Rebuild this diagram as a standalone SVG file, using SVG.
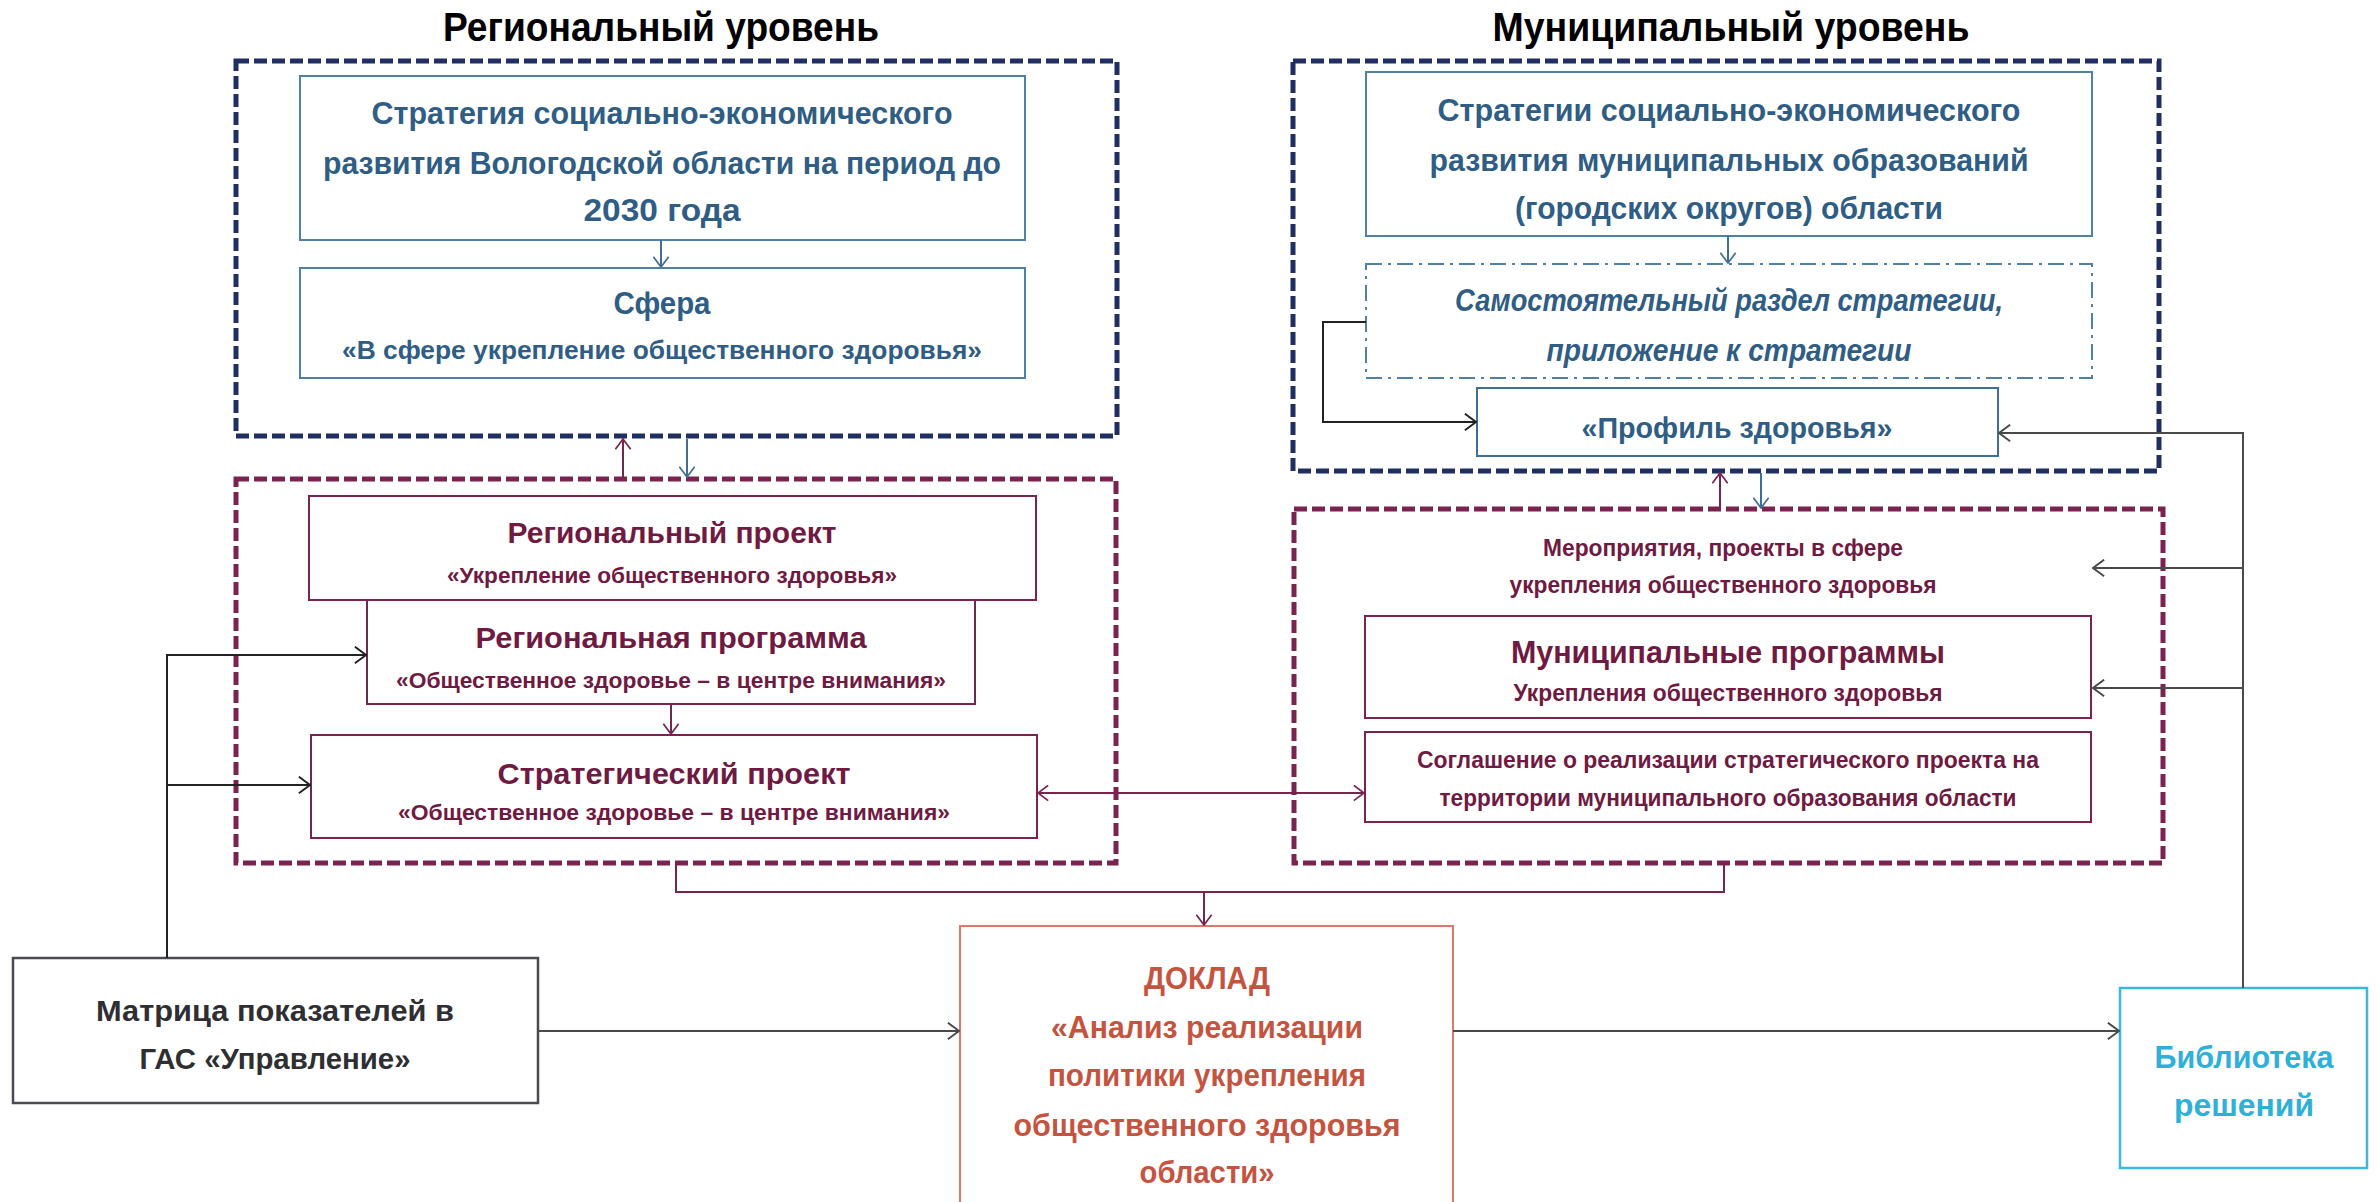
<svg xmlns="http://www.w3.org/2000/svg" width="2377" height="1202" viewBox="0 0 2377 1202">
<style>
text{font-family:"Liberation Sans Narrow","Liberation Sans","DejaVu Sans Condensed",Arial,sans-serif;font-weight:bold;text-anchor:middle}
.title{font-size:40px;fill:#000}
.bt{fill:#2f5d84}
.mt{fill:#6e1a42}
.box-b{fill:#fff;stroke:#4f81a8;stroke-width:2}
.box-m{fill:#fff;stroke:#7a2350;stroke-width:2}
.dash-navy{fill:none;stroke:#1f2f62;stroke-width:5;stroke-dasharray:13 5}
.dash-maroon{fill:none;stroke:#7a2350;stroke-width:5;stroke-dasharray:13 5}
.c{fill:none;stroke-width:2}
</style>
<defs>
<marker id="ab" viewBox="0 0 14 20" refX="13" refY="10" markerWidth="12" markerHeight="17" markerUnits="userSpaceOnUse" orient="auto-start-reverse"><path d="M1,1 L13,10 L1,19" fill="none" stroke="#3f6f95" stroke-width="2"/></marker>
<marker id="am" viewBox="0 0 14 20" refX="13" refY="10" markerWidth="12" markerHeight="17" markerUnits="userSpaceOnUse" orient="auto-start-reverse"><path d="M1,1 L13,10 L1,19" fill="none" stroke="#7a2350" stroke-width="2"/></marker>
<marker id="ak" viewBox="0 0 14 20" refX="13" refY="10" markerWidth="13" markerHeight="19" markerUnits="userSpaceOnUse" orient="auto-start-reverse"><path d="M1,1 L13,10 L1,19" fill="none" stroke="#222" stroke-width="2"/></marker>
<marker id="ag" viewBox="0 0 14 20" refX="13" refY="10" markerWidth="13" markerHeight="19" markerUnits="userSpaceOnUse" orient="auto-start-reverse"><path d="M1,1 L13,10 L1,19" fill="none" stroke="#4a4a4a" stroke-width="2"/></marker>
</defs>
<rect width="2377" height="1202" fill="#fff"/>

<text class="title" x="661" y="41" textLength="436" lengthAdjust="spacingAndGlyphs">Региональный уровень</text>
<text class="title" x="1731" y="41" textLength="477" lengthAdjust="spacingAndGlyphs">Муниципальный уровень</text>

<g id="regional-level">
<rect class="dash-navy" x="236" y="61" width="881" height="375"/>
</g>
<g id="regional-strategy">
<rect class="box-b" x="300" y="76" width="725" height="164"/>
<text class="bt" font-size="31" x="662" y="124" textLength="581" lengthAdjust="spacingAndGlyphs">Стратегия социально-экономического</text>
<text class="bt" font-size="31" x="662" y="174" textLength="678" lengthAdjust="spacingAndGlyphs">развития Вологодской области на период до</text>
<text class="bt" font-size="31" x="662" y="221" textLength="157" lengthAdjust="spacingAndGlyphs">2030 года</text>
</g>
<g id="sphere">
<rect class="box-b" x="300" y="268" width="725" height="110"/>
<text class="bt" font-size="31" x="662" y="314" textLength="97" lengthAdjust="spacingAndGlyphs">Сфера</text>
<text class="bt" font-size="25" x="662" y="359" textLength="640" lengthAdjust="spacingAndGlyphs">«В сфере укрепление общественного здоровья»</text>
</g>

<g id="municipal-level">
<rect class="dash-navy" x="1293" y="61" width="866" height="410"/>
</g>
<g id="municipal-strategy">
<rect class="box-b" x="1366" y="72" width="726" height="164"/>
<text class="bt" font-size="31" x="1729" y="121" textLength="583" lengthAdjust="spacingAndGlyphs">Стратегии социально-экономического</text>
<text class="bt" font-size="31" x="1729" y="171" textLength="599" lengthAdjust="spacingAndGlyphs">развития муниципальных образований</text>
<text class="bt" font-size="31" x="1729" y="219" textLength="428" lengthAdjust="spacingAndGlyphs">(городских округов) области</text>
</g>
<g id="strategy-section">
<rect x="1366" y="264" width="726" height="114" fill="#fff" stroke="#4f81a8" stroke-width="2" stroke-dasharray="16 6 3 6"/>
<text class="bt" font-size="31" font-style="italic" x="1729" y="311" textLength="548" lengthAdjust="spacingAndGlyphs">Самостоятельный раздел стратегии,</text>
<text class="bt" font-size="31" font-style="italic" x="1729" y="361" textLength="365" lengthAdjust="spacingAndGlyphs">приложение к стратегии</text>
</g>
<g id="health-profile">
<rect x="1477" y="388" width="521" height="68" fill="#fff" stroke="#3f6f95" stroke-width="2"/>
<text class="bt" font-size="29" x="1737" y="438" textLength="311" lengthAdjust="spacingAndGlyphs">«Профиль здоровья»</text>
</g>

<g id="regional-projects">
<rect class="dash-maroon" x="236" y="479" width="880" height="384"/>
</g>
<g id="regional-project">
<rect class="box-m" x="309" y="496" width="727" height="104"/>
<text class="mt" font-size="30" x="672" y="543" textLength="329" lengthAdjust="spacingAndGlyphs">Региональный проект</text>
<text class="mt" font-size="22" x="672" y="583" textLength="450" lengthAdjust="spacingAndGlyphs">«Укрепление общественного здоровья»</text>
</g>
<g id="regional-program">
<rect class="box-m" x="367" y="600" width="608" height="104"/>
<text class="mt" font-size="30" x="671" y="648" textLength="391" lengthAdjust="spacingAndGlyphs">Региональная программа</text>
<text class="mt" font-size="22" x="671" y="688" textLength="550" lengthAdjust="spacingAndGlyphs">«Общественное здоровье – в центре внимания»</text>
</g>
<g id="strategic-project">
<rect class="box-m" x="311" y="735" width="726" height="103"/>
<text class="mt" font-size="30" x="674" y="784" textLength="353" lengthAdjust="spacingAndGlyphs">Стратегический проект</text>
<text class="mt" font-size="22" x="674" y="820" textLength="552" lengthAdjust="spacingAndGlyphs">«Общественное здоровье – в центре внимания»</text>
</g>

<g id="municipal-projects">
<rect class="dash-maroon" x="1294" y="509" width="869" height="354"/>
<text class="mt" font-size="23" x="1723" y="556" textLength="360" lengthAdjust="spacingAndGlyphs">Мероприятия, проекты в сфере</text>
<text class="mt" font-size="23" x="1723" y="593" textLength="427" lengthAdjust="spacingAndGlyphs">укрепления общественного здоровья</text>
</g>
<g id="municipal-programs">
<rect class="box-m" x="1365" y="616" width="726" height="102"/>
<text class="mt" font-size="31" x="1728" y="663" textLength="434" lengthAdjust="spacingAndGlyphs">Муниципальные программы</text>
<text class="mt" font-size="24" x="1728" y="701" textLength="429" lengthAdjust="spacingAndGlyphs">Укрепления общественного здоровья</text>
</g>
<g id="agreement">
<rect class="box-m" x="1365" y="732" width="726" height="90"/>
<text class="mt" font-size="24" x="1728" y="768" textLength="622" lengthAdjust="spacingAndGlyphs">Соглашение о реализации стратегического проекта на</text>
<text class="mt" font-size="24" x="1728" y="806" textLength="577" lengthAdjust="spacingAndGlyphs">территории муниципального образования области</text>
</g>

<g id="matrix">
<rect x="13" y="958" width="525" height="145" fill="#fff" stroke="#4a4a50" stroke-width="2.5"/>
<text font-size="30" fill="#2e2e33" x="275" y="1021" textLength="358" lengthAdjust="spacingAndGlyphs">Матрица показателей в</text>
<text font-size="30" fill="#2e2e33" x="275" y="1069" textLength="271" lengthAdjust="spacingAndGlyphs">ГАС «Управление»</text>
</g>
<g id="report">
<rect x="960" y="926" width="493" height="290" fill="#fff" stroke="#e0756b" stroke-width="2"/>
<text font-size="32" fill="#c4543f" x="1207" y="989" textLength="126" lengthAdjust="spacingAndGlyphs">ДОКЛАД</text>
<text font-size="32" fill="#c4543f" x="1207" y="1038" textLength="312" lengthAdjust="spacingAndGlyphs">«Анализ реализации</text>
<text font-size="32" fill="#c4543f" x="1207" y="1086" textLength="318" lengthAdjust="spacingAndGlyphs">политики укрепления</text>
<text font-size="32" fill="#c4543f" x="1207" y="1136" textLength="387" lengthAdjust="spacingAndGlyphs">общественного здоровья</text>
<text font-size="32" fill="#c4543f" x="1207" y="1183" textLength="135" lengthAdjust="spacingAndGlyphs">области»</text>
</g>
<g id="library">
<rect x="2120" y="988" width="247" height="180" fill="#fff" stroke="#3bb8dc" stroke-width="2.5"/>
<text font-size="32" fill="#2fb0d8" x="2244" y="1068" textLength="179" lengthAdjust="spacingAndGlyphs">Библиотека</text>
<text font-size="32" fill="#2fb0d8" x="2244" y="1116" textLength="140" lengthAdjust="spacingAndGlyphs">решений</text>
</g>

<g id="connectors">
<path class="c" stroke="#3f6f95" d="M661,240 V267" marker-end="url(#ab)"/>
<path class="c" stroke="#3f6f95" d="M1728,236 V263" marker-end="url(#ab)"/>
<path class="c" stroke="#222" d="M1366,322 H1323 V422 H1476" marker-end="url(#ak)"/>
<path class="c" stroke="#4a4a4a" d="M2243,988 V433 H1999" marker-end="url(#ag)"/>
<path class="c" stroke="#4a4a4a" d="M2243,568 H2093" marker-end="url(#ag)"/>
<path class="c" stroke="#4a4a4a" d="M2243,688 H2093" marker-end="url(#ag)"/>
<path class="c" stroke="#7a2350" d="M623,478 V439" marker-end="url(#am)"/>
<path class="c" stroke="#3f6f95" d="M687,439 V477" marker-end="url(#ab)"/>
<path class="c" stroke="#7a2350" d="M1720,508 V473" marker-end="url(#am)"/>
<path class="c" stroke="#3f6f95" d="M1761,473 V508" marker-end="url(#ab)"/>
<path class="c" stroke="#7a2350" d="M671,704 V734" marker-end="url(#am)"/>
<path class="c" stroke="#222" d="M167,958 V655 H366" marker-end="url(#ak)"/>
<path class="c" stroke="#222" d="M167,785 H310" marker-end="url(#ak)"/>
<path class="c" stroke="#7a2350" d="M1038,793 H1364" marker-start="url(#am)" marker-end="url(#am)"/>
<path class="c" stroke="#7a2350" stroke-width="2.5" d="M676,863 V892 H1724 V863"/>
<path class="c" stroke="#7a2350" d="M1204,892 V925" marker-end="url(#am)"/>
<path class="c" stroke="#4a4a4a" stroke-width="3" d="M538,1031 H959" marker-end="url(#ag)"/>
<path class="c" stroke="#4a4a4a" stroke-width="3" d="M1453,1031 H2119" marker-end="url(#ag)"/>
</g>
</svg>
